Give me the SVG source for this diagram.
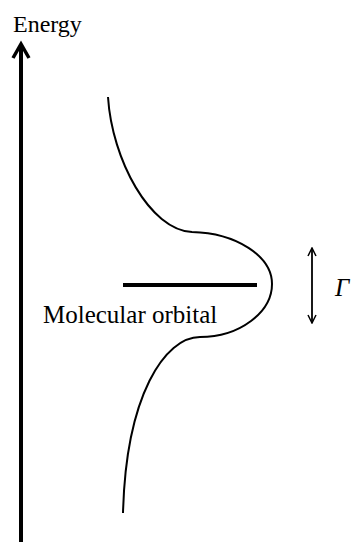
<svg xmlns="http://www.w3.org/2000/svg" width="361" height="542" viewBox="0 0 361 542">
<defs>
<style>
.ln{stroke:#000;fill:none}
.t{font-family:'Liberation Serif','Times New Roman',serif;fill:#000}
</style>
<marker id="ah" viewBox="0 0 10 10" refX="9" refY="5" markerWidth="10" markerHeight="10" markerUnits="userSpaceOnUse" orient="auto-start-reverse">
<path d="M1,1 L9,5 L1,9" fill="none" stroke="#000" stroke-width="1.5"/>
</marker>
</defs>
<rect width="361" height="542" fill="#fff"/>
<g id="axis">
<line class="ln" x1="21" y1="542" x2="21" y2="44" stroke-width="4"/>
<path class="ln" d="M13,58 L21,44 L29,58" stroke-width="3.5"/>
<text class="t" x="13" y="32" font-size="24" font-family="Liberation Serif, serif">Energy</text>
</g>
<g id="curve">
<path class="ln" stroke-width="2" d="M108,97 C112,160 150,230 192,232 C236,233 272,256 272,284 C272,312 240,337 200,337 C165,337 126,395 123,513"/>
</g>
<g id="orbital">
<line class="ln" x1="123" y1="285" x2="257" y2="285" stroke-width="4"/>
<text class="t" x="43" y="323" font-size="25" font-family="Liberation Serif, serif">Molecular orbital</text>
</g>
<g id="width">
<line class="ln" x1="312" y1="248" x2="312" y2="323" stroke-width="1.8" marker-start="url(#ah)" marker-end="url(#ah)"/>
<text class="t" x="335" y="296" font-size="25" font-style="italic" font-family="Liberation Serif, serif">Γ</text>
</g>
</svg>
